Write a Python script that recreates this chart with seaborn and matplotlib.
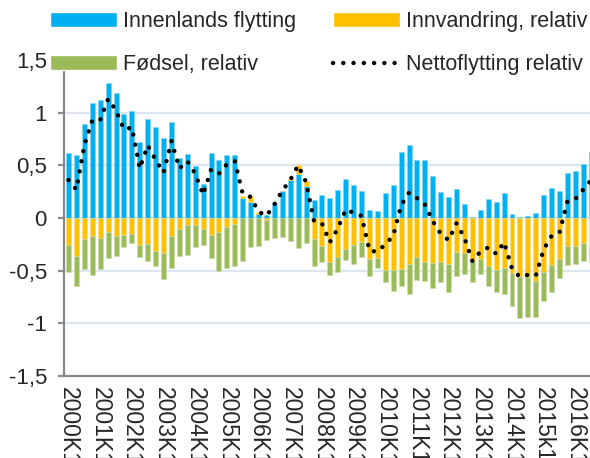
import numpy as np
import seaborn as sns
import matplotlib.pyplot as plt
from matplotlib.patches import Patch
from matplotlib.lines import Line2D

# quarterly categories, 2000K1 .. 2016K3 (last one is cut by the right edge)
quarters = [f"{y}K{q}" for y in range(2000, 2017) for q in range(1, 5)][:67]
tick_labels = ["2000K1", "2001K1", "2002K1", "2003K1", "2004K1", "2005K1",
               "2006K1", "2007K1", "2008K1", "2009K1", "2010K1", "2011K1",
               "2012K1", "2013K1", "2014K1", "2015k1", "2016K1"]

innenlands = [0.62, 0.60, 0.89, 1.09, 1.12, 1.28, 1.19, 0.99, 1.02, 0.72,
              0.94, 0.86, 0.76, 0.91, 0.57, 0.61, 0.49, 0.32, 0.62, 0.55,
              0.60, 0.60, 0.19, 0.15, 0.035, 0.025, 0.145, 0.256, 0.357, 0.414,
              0.30, 0.17, 0.218, 0.186, 0.268, 0.37, 0.31, 0.253, 0.073, 0.063,
              0.234, 0.313, 0.629, 0.69, 0.55, 0.55, 0.40, 0.246, 0.20, 0.278,
              0.136, 0.005, 0.073, 0.177, 0.148, 0.24, 0.04, 0.005, 0.016, 0.05,
              0.215, 0.284, 0.253, 0.43, 0.445, 0.51, 0.63]
innvandring = [-0.26, -0.36, -0.20, -0.17, -0.19, -0.13, -0.17, -0.16, -0.15, -0.26,
               -0.25, -0.31, -0.33, -0.17, -0.10, -0.07, -0.07, -0.10, -0.16, -0.13,
               -0.09, -0.06, 0.02, 0.06, 0.02, -0.015, 0.0, 0.0, 0.01, 0.09,
               0.05, -0.20, -0.27, -0.42, -0.37, -0.29, -0.26, -0.23, -0.39, -0.38,
               -0.49, -0.49, -0.48, -0.44, -0.37, -0.42, -0.43, -0.42, -0.44, -0.32,
               -0.33, -0.41, -0.39, -0.46, -0.49, -0.47, -0.52, -0.56, -0.56, -0.60,
               -0.51, -0.45, -0.39, -0.27, -0.27, -0.24, -0.27]
fodsel = [-0.25, -0.29, -0.28, -0.37, -0.29, -0.25, -0.19, -0.12, -0.09, -0.11,
          -0.16, -0.15, -0.25, -0.30, -0.26, -0.28, -0.21, -0.16, -0.22, -0.37,
          -0.38, -0.40, -0.41, -0.28, -0.265, -0.195, -0.19, -0.18, -0.22, -0.285,
          -0.234, -0.26, -0.145, -0.12, -0.14, -0.105, -0.18, -0.14, -0.16, -0.09,
          -0.12, -0.20, -0.17, -0.28, -0.22, -0.18, -0.23, -0.19, -0.26, -0.23,
          -0.20, -0.20, -0.14, -0.19, -0.21, -0.25, -0.32, -0.39, -0.38, -0.34,
          -0.28, -0.25, -0.18, -0.18, -0.17, -0.17, -0.15]
netto = [0.36, 0.27, 0.69, 0.93, 0.93, 1.13, 1.02, 0.84, 0.86, 0.47,
         0.69, 0.55, 0.43, 0.73, 0.47, 0.54, 0.42, 0.22, 0.46, 0.42,
         0.51, 0.54, 0.23, 0.20, 0.06, 0.02, 0.13, 0.26, 0.36, 0.50,
         0.34, -0.03, -0.05, -0.23, -0.10, 0.08, 0.05, 0.02, -0.31, -0.32,
         -0.25, -0.17, 0.12, 0.24, 0.19, 0.13, -0.03, -0.15, -0.21, -0.05,
         -0.19, -0.41, -0.32, -0.28, -0.34, -0.23, -0.48, -0.56, -0.54, -0.55,
         -0.30, -0.17, -0.14, 0.16, 0.18, 0.27, 0.36]

names = ["Innenlands flytting", "Innvandring, relativ", "Fødsel, relativ",
         "Nettoflytting relativ"]
colors = ["#00B0F0", "#FFC000", "#9BBB59"]

sns.set_style("white")
plt.rcParams["font.family"] = ["Liberation Sans", "DejaVu Sans"]

fig = plt.figure(figsize=(5.9, 4.58), dpi=100)
ax = fig.add_axes([64 / 590, 1 - 376 / 458, 1 - 64 / 590, 316 / 458])

x = np.arange(len(quarters))
blue = np.array(innenlands)
yel = np.array(innvandring)
grn = np.array(fodsel)

# excel-style stacking: positives upward, negatives downward
yel_bottom = np.where(yel >= 0, np.maximum(blue, 0), np.minimum(blue, 0))
grn_bottom = np.minimum(blue, 0) + np.minimum(yel, 0)

w = 0.63
ax.bar(x, blue, width=w, color=colors[0], edgecolor="#7FD7F7", lw=0.4)
ax.bar(x, yel, width=w, bottom=yel_bottom, color=colors[1], edgecolor="#FFDF80", lw=0.4)
ax.bar(x, grn, width=w, bottom=grn_bottom, color=colors[2], edgecolor="#CDDDAC", lw=0.4)

dots = (0, (0.01, 2.3))
sns.lineplot(x=x, y=netto, ax=ax, color="black", lw=3.2, linestyle=dots,
             dash_capstyle="round")

ax.set_xlim(-0.57, 65.85)
ax.set_ylim(-1.5, 1.5)
yt = [-1.5, -1, -0.5, 0, 0.5, 1, 1.5]
ax.set_yticks(yt)
ax.set_yticklabels([f"{v:g}".replace(".", ",") for v in yt], fontsize=16)
ax.set_xticks(x[::4][:len(tick_labels)])
ax.set_xticklabels(tick_labels, rotation=-90, fontsize=16.5, va="top", ha="center")

ax.yaxis.grid(True, color="#DCE5F0", lw=1.6)
ax.get_ygridlines()[-1].set_visible(False)
ax.set_axisbelow(True)

for s in ["top", "right"]:
    ax.spines[s].set_visible(False)
for s in ["left", "bottom"]:
    ax.spines[s].set_color("#898989")
    ax.spines[s].set_linewidth(1.6)
ax.tick_params(axis="y", direction="out", length=4.3, width=1.6, color="#898989",
               pad=8, left=True)
ax.tick_params(axis="x", length=0, pad=8)

handles = [Patch(facecolor=colors[0]), Patch(facecolor=colors[2]),
           Patch(facecolor=colors[1]),
           Line2D([0], [0], color="black", lw=3.2, linestyle=dots, dash_capstyle="round")]
labels = [names[0], names[2], names[1], names[3]]
fig.legend(handles, labels, loc="upper left", bbox_to_anchor=(0.085, 0.975),
           ncol=2, frameon=False, fontsize=15.5, handlelength=3.1, handleheight=0.7,
           handletextpad=0.3, columnspacing=1.7, labelspacing=1.02,
           borderaxespad=0, borderpad=0)

fig.savefig("out.png", dpi=100)
